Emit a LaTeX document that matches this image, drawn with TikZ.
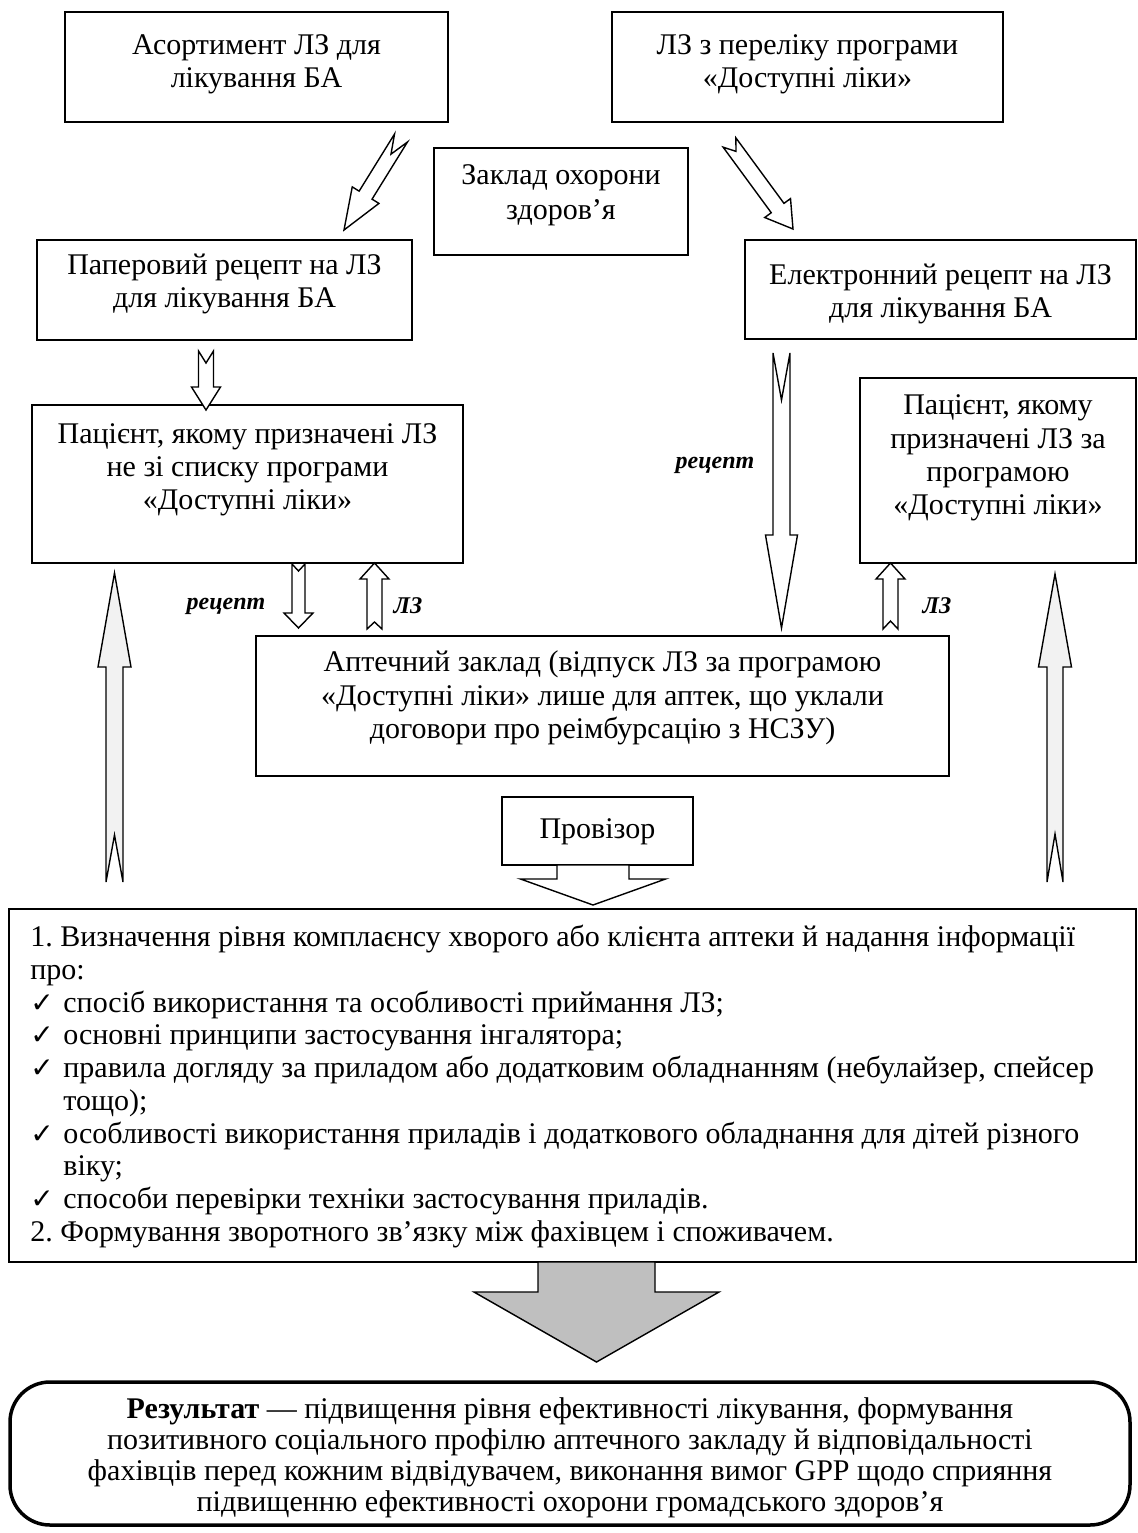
\documentclass[tikz,border=0pt]{standalone}
\usepackage{fontspec}
\setmainfont{Liberation Serif}
\newfontfamily\symfont{DejaVu Sans}
\usetikzlibrary{calc}
\frenchspacing
\newcommand{\fs}{\fontsize{15}{16.6}\selectfont}
\newcommand{\fl}{\fontsize{15}{16.35}\selectfont}
\newcommand{\chk}{\makebox[16.5pt][l]{\symfont\fontsize{14}{14}\selectfont ✓}}
\newcommand{\ind}{\hspace*{16.5pt}}
% #1 style, #2 tail, #3 tip, #4 stem half width, #5 head half width, #6 head length, #7 notch depth
\newcommand{\blkarrow}[7]{%
  \coordinate (bah) at ($(#3)!#6!(#2)$);
  \coordinate (ban) at ($(#2)!#7!(#3)$);
  \path[#1] ($(#2)!#4!90:(#3)$) -- ($(bah)!#4!90:(#3)$) -- ($(bah)!#5!90:(#3)$) -- (#3)
    -- ($(bah)!#5!-90:(#3)$) -- ($(bah)!#4!-90:(#3)$) -- ($(#2)!#4!-90:(#3)$) -- (ban) -- cycle;
}
\tikzset{
  box/.style={draw, line width=0.7pt, inner sep=0pt},
  txt/.style={font=\fs, align=center, inner sep=0pt},
  lbl/.style={font=\fontsize{12}{14}\selectfont\bfseries\itshape, inner sep=0pt},
  ar/.style={draw, line width=0.7pt, fill=white, line join=miter},
  arl/.style={draw, line width=0.7pt, fill=black!5, line join=miter},
  arg/.style={draw, line width=0.7pt, fill=black!25, line join=miter}
}
\begin{document}
\begin{tikzpicture}[x=0.5pt,y=-0.5pt]
\useasboundingbox[fill=white] (0,0) rectangle (1138,1533);
% boxes
\node[box, minimum width=191.5pt, minimum height=55pt] (A) at (256.5,67) {};
\node[txt] (At) at (256.5,64) {Асортимент ЛЗ для\\лікування БА};
\node[box, minimum width=195.5pt, minimum height=55pt] (B) at (807.5,67) {};
\node[txt] (Bt) at (807.5,64) {ЛЗ з переліку програми\\«Доступні ліки»};
\node[box, minimum width=127pt, minimum height=53.5pt] (C) at (561,201.5) {};
\node[txt, font=\fontsize{15}{17.5}\selectfont] (Ct) at (561,195) {Заклад охорони\\здоров’я};
\node[box, minimum width=187.5pt, minimum height=50pt] (D) at (224.5,290) {};
\node[txt] (Dt) at (224.5,284) {Паперовий рецепт на ЛЗ\\для лікування БА};
\node[box, minimum width=195.5pt, minimum height=49.5pt] (E) at (940.5,289.5) {};
\node[txt] (Et) at (940.5,294) {Електронний рецепт на ЛЗ\\для лікування БА};
\node[box, minimum width=215.5pt, minimum height=79pt] (F) at (247.5,484) {};
\node[txt] (Ft) at (247.5,470) {Пацієнт, якому призначені ЛЗ\\не зі списку програми\\«Доступні ліки»};
\node[box, minimum width=138pt, minimum height=92.5pt] (G) at (998,470.5) {};
\node[txt] (Gt) at (998,458) {Пацієнт, якому\\призначені ЛЗ за\\програмою\\«Доступні ліки»};
\node[box, minimum width=346.5pt, minimum height=70pt] (H) at (602.5,706) {};
\node[txt] (Ht) at (602.5,698) {Аптечний заклад (відпуск ЛЗ за програмою\\«Доступні ліки» лише для аптек, що уклали\\договори про реімбурсацію з НСЗУ)};
\node[box, minimum width=95.5pt, minimum height=34pt] (I) at (597.5,831) {};
\node[txt] (It) at (597.5,832) {Провізор};
\node[box, minimum width=563.5pt, minimum height=176.5pt] (J) at (572.5,1085.5) {};
\node[font=\fl, align=left, inner sep=0pt, anchor=north west] (Jt) at (30,925) {%
1. Визначення рівня комплаєнсу хворого або клієнта аптеки й надання інформації\\
про:\\
\chk спосіб використання та особливості приймання ЛЗ;\\
\chk основні принципи застосування інгалятора;\\
\chk правила догляду за приладом або додатковим обладнанням (небулайзер, спейсер\\
\ind тощо);\\
\chk особливості використання приладів і додаткового обладнання для дітей різного\\
\ind віку;\\
\chk способи перевірки техніки застосування приладів.\\
2. Формування зворотного зв’язку між фахівцем і споживачем.};
\draw[line width=1.75pt, rounded corners=20pt] (10,1382) rectangle (1130,1525);
\node[txt, font=\fontsize{15}{15.5}\selectfont] (Rt) at (570,1458) {\textbf{Результат} — підвищення рівня ефективності лікування, формування\\позитивного соціального профілю аптечного закладу й відповідальності\\фахівців перед кожним відвідувачем, виконання вимог GPP щодо сприяння\\підвищенню ефективності охорони громадського здоров’я};
% labels
\node[lbl] (l1) at (715,465) {рецепт};
\node[lbl] (l2) at (226,606) {рецепт};
\node[lbl] (l3) at (408,606) {ЛЗ};
\node[lbl] (l4) at (937,606) {ЛЗ};
% arrows
\coordinate (a1t) at (401,138); \coordinate (a1p) at (344,230);
\blkarrow{ar}{a1t}{a1p}{3.8pt}{7.85pt}{20.5pt}{9.5pt}
\coordinate (a2t) at (729.5,142.5); \coordinate (a2p) at (793,229);
\blkarrow{ar}{a2t}{a2p}{3.95pt}{8pt}{13pt}{5.5pt}
\coordinate (a3t) at (206,351); \coordinate (a3p) at (206,410);
\blkarrow{ar}{a3t}{a3p}{3.75pt}{7.25pt}{11.5pt}{6pt}
\coordinate (a4t) at (781.5,353); \coordinate (a4p) at (781.5,628);
\blkarrow{ar}{a4t}{a4p}{4.25pt}{8pt}{46.5pt}{23.5pt}
\coordinate (a5t) at (114.5,882); \coordinate (a5p) at (114.5,573);
\blkarrow{arl}{a5t}{a5p}{4.25pt}{8.25pt}{47pt}{23.5pt}
\coordinate (a6t) at (1055,882); \coordinate (a6p) at (1055,574);
\blkarrow{arl}{a6t}{a6p}{4pt}{8.25pt}{46.5pt}{24pt}
\coordinate (a7t) at (298.5,564); \coordinate (a7p) at (298.5,628);
\blkarrow{ar}{a7t}{a7p}{3.25pt}{7.25pt}{7.5pt}{3.5pt}
\coordinate (a8t) at (374.5,629); \coordinate (a8p) at (374.5,563);
\blkarrow{ar}{a8t}{a8p}{3.75pt}{7.25pt}{8pt}{3.5pt}
\coordinate (a9t) at (890.5,629); \coordinate (a9p) at (890.5,563);
\blkarrow{ar}{a9t}{a9p}{3.75pt}{7.25pt}{8pt}{4pt}
\coordinate (apt) at (593,865); \coordinate (app) at (593,905);
\blkarrow{ar}{apt}{app}{18pt}{36.25pt}{13pt}{0pt}
\coordinate (agt) at (596.5,1262); \coordinate (agp) at (596.5,1362);
\blkarrow{arg}{agt}{agp}{29.25pt}{61.25pt}{35pt}{0pt}
\end{tikzpicture}
\end{document}
